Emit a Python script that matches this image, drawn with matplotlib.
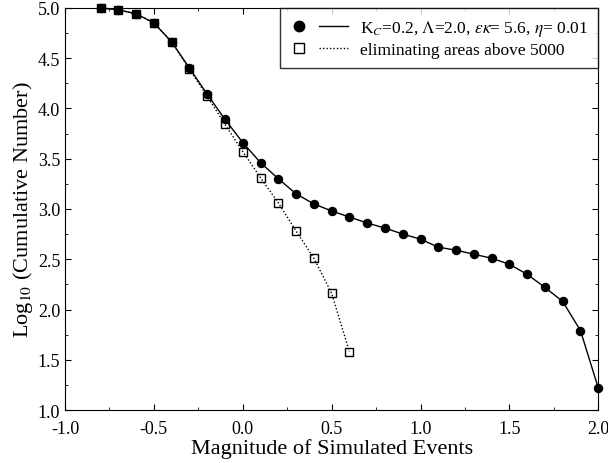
import numpy as np
import matplotlib
matplotlib.use('Agg')
import matplotlib.pyplot as plt
from matplotlib.lines import Line2D
from matplotlib.legend_handler import HandlerBase
from matplotlib.ticker import MultipleLocator

plt.rcParams['font.family'] = ['Liberation Serif', 'DejaVu Serif']
plt.rcParams['mathtext.fontset'] = 'stix'

# full model
mag_full = [-0.8, -0.7, -0.6, -0.5, -0.4, -0.3, -0.2, -0.1, 0.0, 0.1, 0.2, 0.3, 0.4, 0.5,
            0.6, 0.7, 0.8, 0.9, 1.0, 1.1, 1.2, 1.3, 1.4, 1.5, 1.6, 1.7, 1.8, 1.9, 2.0]
logn_full = [5.00, 4.98, 4.94, 4.85, 4.66, 4.40, 4.14, 3.89, 3.66, 3.46, 3.30, 3.15, 3.05, 2.98,
             2.92, 2.86, 2.81, 2.75, 2.70, 2.62, 2.59, 2.55, 2.51, 2.45, 2.35, 2.22, 2.08, 1.79, 1.22]

# large areas removed
mag_cut = [-0.8, -0.7, -0.6, -0.5, -0.4, -0.3, -0.2, -0.1, 0.0, 0.1, 0.2, 0.3, 0.4, 0.5, 0.6]
logn_cut = [5.00, 4.98, 4.94, 4.85, 4.66, 4.39, 4.12, 3.84, 3.57, 3.31, 3.06, 2.78, 2.51, 2.16, 1.58]

labels = [r'K$_C$=0.2, $\Lambda$=2.0, $\epsilon\kappa$= 5.6, $\eta$= 0.01',
          'eliminating areas above 5000']

dots = (0, (1, 1.5))


class MarkThenLine(HandlerBase):
    # marker on the left, a short line to its right
    def create_artists(self, legend, orig_handle, xdescent, ydescent,
                       width, height, fontsize, trans):
        mk, ln = orig_handle
        y = height / 2.0 - ydescent
        m = Line2D([-xdescent + 0.15 * width], [y])
        m.update_from(mk)
        l = Line2D([-xdescent + 0.5 * width, -xdescent + width], [y, y])
        l.update_from(ln)
        m.set_transform(trans)
        l.set_transform(trans)
        return [m, l]


fig = plt.figure(figsize=(6.08, 4.64), dpi=100)
ax = fig.add_axes([0.107, 0.114, 0.877, 0.867])

ax.plot(mag_full, logn_full, color='black', lw=1.0, marker='o', ms=5.8,
        mfc='black', mec='black', zorder=3, clip_on=False)
ax.plot(mag_cut, logn_cut, color='black', lw=1.0, ls=dots, marker='s', ms=5.8,
        mfc='none', mec='black', mew=1.0, zorder=4, clip_on=False)

ax.set_xlim(-1.0, 2.0)
ax.set_ylim(1.0, 5.0)
ax.xaxis.set_major_locator(MultipleLocator(0.5))
ax.xaxis.set_minor_locator(MultipleLocator(0.25))
ax.yaxis.set_major_locator(MultipleLocator(0.5))
ax.yaxis.set_minor_locator(MultipleLocator(0.25))
ax.tick_params(which='both', direction='in', top=True, right=True, labelsize=13)
ax.tick_params(which='major', length=4)
ax.tick_params(which='minor', length=2.5)
ax.xaxis.set_major_formatter(plt.FuncFormatter(lambda v, p: '%.1f' % v))
ax.yaxis.set_major_formatter(plt.FuncFormatter(lambda v, p: '%.1f' % v))
ax.tick_params(axis='x', pad=7)

ax.set_xlabel('Magnitude of Simulated Events', fontsize=16, labelpad=1)
ax.set_ylabel(r'Log$_{10}$ (Cumulative Number)', fontsize=16, labelpad=2)

h1 = (Line2D([], [], ls='none', marker='o', ms=7.5, mfc='black', mec='black'),
      Line2D([], [], color='black', lw=1.0))
h2 = (Line2D([], [], ls='none', marker='s', ms=7.5, mfc='white', mec='black'),
      Line2D([], [], color='black', lw=1.0, ls=dots))
leg = ax.legend([h1, h2], labels,
                handler_map={tuple: MarkThenLine()},
                loc='upper right', fontsize=12.5, frameon=True, fancybox=False,
                edgecolor='black', handlelength=3.3, borderaxespad=0.0,
                labelspacing=0.2, handletextpad=0.7, borderpad=0.6)
leg.get_frame().set_linewidth(1.0)

plt.savefig('out.png', dpi=100)
